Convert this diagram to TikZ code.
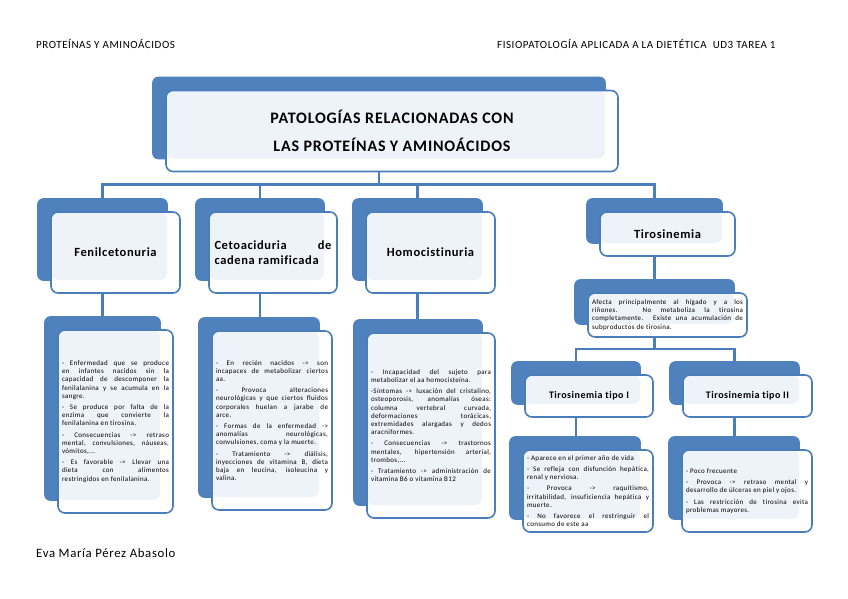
\documentclass[tikz,border=0pt]{standalone}
\usepackage{fontspec}
\setmainfont{Carlito}[LetterSpace=5, Ligatures=NoCommon]
\newfontfamily\detailfont{Carlito}[LetterSpace=5, Ligatures=NoCommon]
\usetikzlibrary{fit, backgrounds}
\definecolor{cardblue}{HTML}{4F81BD}
\definecolor{cardline}{HTML}{4A7EBB}
\definecolor{cardlight}{HTML}{EEF3FA}

\begin{document}
\begin{tikzpicture}[
    x=1pt, y=-1pt,
    card/.style={draw=cardline, line width=1.6pt, rounded corners=7pt, fill=white, inner sep=0pt,
      path picture={\fill[cardlight] (path picture bounding box.north west) rectangle ([shift={(-13,-13)}]path picture bounding box.south east);}},
    backbox/.style={fill=cardblue, rounded corners=6pt, inner sep=0pt, draw=none},
    maintitle/.style={card, align=center, font=\fontsize{16}{28}\selectfont\bfseries},
    cardtitle/.style={card, align=center, font=\fontsize{12.5}{15}\selectfont\bfseries},
    subtitle/.style={card, align=center, font=\fontsize{10}{12}\selectfont\bfseries},
    detail/.style={card, align=justify, inner xsep=4pt, font=\detailfont\fontsize{7}{8.2}\selectfont,
      execute at begin node={\setlength{\parskip}{3pt}\parindent=0pt\tolerance=10000\hyphenpenalty=10000}},
    header/.style={anchor=west, inner sep=0pt, font=\fontsize{11}{13}\selectfont},
    conn/.style={draw=cardline, line width=2.4pt}
]
\useasboundingbox (0,0) rectangle (848,599);

% Page texts
\node[header] (hleft) at (36,44) {PROTEÍNAS Y AMINOÁCIDOS};
\node[header] (hright) at (497,44) {FISIOPATOLOGÍA APLICADA A LA DIETÉTICA\ \ UD3 TAREA 1};
\node[header, font=\fontsize{12.8}{15}\selectfont] (autora) at (36,553) {Eva María Pérez Abasolo};

% Nodes
\node[maintitle, minimum width=452, minimum height=81] (top) at (392,131)
  {PATOLOGÍAS RELACIONADAS CON\\LAS PROTEÍNAS Y AMINOÁCIDOS};

\node[cardtitle, minimum width=129, minimum height=81] (fen) at (115.5,252.5) {Fenilcetonuria};
\node[cardtitle, align=justify, text width=117, inner xsep=5.5pt, minimum height=81] (ceto) at (273,252.5)
  {Cetoaciduria de\linebreak cadena ramificada};
\node[cardtitle, minimum width=129, minimum height=81] (homo) at (430.5,252.5) {Homocistinuria};
\node[cardtitle, minimum width=135, minimum height=44] (tiro) at (667.5,234) {Tirosinemia};

\node[detail, text width=151, minimum height=44] (tirod) at (667.5,315)
  {Afecta principalmente al hígado y a los\linebreak riñones. No metaboliza la tirosina\linebreak completamente. Existe una acumulación de\linebreak subproductos de tirosina.};

\node[subtitle, minimum width=128, minimum height=42] (tipoa) at (589,396) {Tirosinemia tipo I};
\node[subtitle, minimum width=129, minimum height=42] (tipob) at (747.5,396) {Tirosinemia tipo II};

\node[detail, text width=107, minimum height=183] (fend) at (115.5,421.5)
  {- Enfermedad que se produce\linebreak en infantes nacidos sin la\linebreak capacidad de descomponer la\linebreak fenilalanina y se acumula en la\linebreak sangre.\par
   - Se produce por falta de la\linebreak enzima que convierte la\linebreak fenilalanina en tirosina.\par
   - Consecuencias -> retraso\linebreak mental, convulsiones, náuseas,\linebreak vómitos,...\par
   - Es favorable -> Llevar una\linebreak dieta con alimentos\linebreak restringidos en fenilalanina.};

\node[detail, text width=112, minimum height=179] (cetod) at (272,420.5)
  {- En recién nacidos -> son\linebreak incapaces de metabolizar ciertos\linebreak aa.\par
   - Provoca alteraciones\linebreak neurológicas y que ciertos fluidos\linebreak corporales huelan a jarabe de\linebreak arce.\par
   - Formas de la enfermedad ->\linebreak anomalías neurológicas,\linebreak convulsiones, coma y la muerte.\par
   - Tratamiento -> diálisis,\linebreak inyecciones de vitamina B, dieta\linebreak baja en leucina, isoleucina y\linebreak valina.};

\node[detail, text width=120, minimum height=185] (homod) at (431,425.5)
  {- Incapacidad del sujeto para\linebreak metabolizar el aa homocisteína.\par
   -Síntomas -> luxación del cristalino,\linebreak osteoporosis, anomalías óseas:\linebreak columna vertebral curvada,\linebreak deformaciones torácicas,\linebreak extremidades alargadas y dedos\linebreak aracniformes.\par
   - Consecuencias -> trastornos\linebreak mentales, hipertensión arterial,\linebreak trombos,...\par
   - Tratamiento -> administración de\linebreak vitamina B6 o vitamina B12};

\node[detail, text width=122, minimum height=82] (tipoad) at (588,491)
  {- Aparece en el primer año de vida\par
   - Se refleja con disfunción hepática,\linebreak renal y nerviosa.\par
   - Provoca -> raquitismo,\linebreak irritabilidad, insuficiencia hepática y\linebreak muerte.\par
   - No favorece el restringuir el\linebreak consumo de este aa};

\node[detail, text width=122, minimum height=82] (tipobd) at (747,491)
  {- Poco frecuente\par
   - Provoca -> retraso mental y\linebreak desarrollo de úlceras en piel y ojos.\par
   - Las restricción de tirosina evita\linebreak problemas mayores.};

% Back cards
\begin{pgfonlayer}{background}
  \fill[white] (0,0) rectangle (848,599);
  \foreach \n in {top,fen,ceto,homo,tiro,tirod,tipoa,tipob,fend,cetod,homod,tipoad,tipobd}
    \node[backbox, fit={([shift={(-13,-13)}]\n.north west) ([shift={(-13,-13)}]\n.south east)}] (\n-b) {};
\end{pgfonlayer}

% Connections
\draw[conn] (top-b.south |- top.south) -- ++(0,12) coordinate (bar);
\draw[conn] (fen-b.north) |- (bar) -| (tiro-b.north);
\draw[conn] (ceto-b.north) -- (ceto-b.north |- bar);
\draw[conn] (homo-b.north) -- (homo-b.north |- bar);

\draw[conn] (fen-b.south |- fen.south) -- (fen-b.south |- fend-b.north);
\draw[conn] (ceto-b.south |- ceto.south) -- (ceto-b.south |- cetod-b.north);
\draw[conn] (homo-b.south |- homo.south) -- (homo-b.south |- homod-b.north);
\draw[conn] (tiro-b.south |- tiro.south) -- (tiro-b.south |- tirod-b.north);

\draw[conn] (tirod-b.south |- tirod.south) -- ++(0,11) coordinate (bar2);
\draw[conn] (tipoa-b.north) |- (bar2) -| (tipob-b.north);
\draw[conn] (tipoa-b.south |- tipoa.south) -- (tipoa-b.south |- tipoad-b.north);
\draw[conn] (tipob-b.south |- tipob.south) -- (tipob-b.south |- tipobd-b.north);

\end{tikzpicture}
\end{document}
